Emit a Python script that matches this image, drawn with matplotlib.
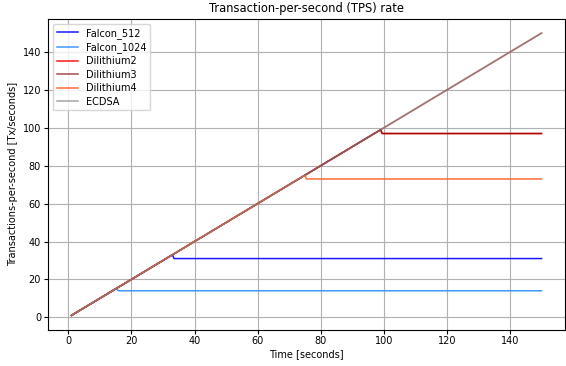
import matplotlib
matplotlib.use("Agg")
import matplotlib.pyplot as plt

# breakpoints of each TPS curve: (time [s], TPS)
falcon512_t = [1, 33, 33.5, 150]
falcon512_tps = [1, 33, 31, 31]
falcon1024_t = [1, 15, 16, 150]
falcon1024_tps = [1, 15, 14, 14]
dilithium2_t = [1, 99, 99.5, 150]
dilithium2_tps = [1, 99, 97, 97]
dilithium3_t = [1, 99, 99.5, 150]
dilithium3_tps = [1, 99, 97, 97]
dilithium4_t = [1, 75, 75.5, 150]
dilithium4_tps = [1, 75, 73, 73]
ecdsa_t = [1, 150]
ecdsa_tps = [1, 150]
offered_t = [1, 150]
offered_tps = [1, 150]

SERIES = [
    ("Falcon_512", falcon512_t, falcon512_tps, "#0000ff", 0.9),
    ("Falcon_1024", falcon1024_t, falcon1024_tps, "#2b8fff", 0.9),
    ("Dilithium2", dilithium2_t, dilithium2_tps, "#ff0000", 0.9),
    ("Dilithium3", dilithium3_t, dilithium3_tps, "#800000", 0.7),
    ("Dilithium4", dilithium4_t, dilithium4_tps, "#ff5a22", 0.9),
    ("ECDSA", ecdsa_t, ecdsa_tps, "#808080", 0.7),
]

fig = plt.figure(figsize=(5.66, 3.66), dpi=100)
ax = fig.add_axes([48 / 566, 1 - 329.5 / 366, 517 / 566, 310.5 / 366])

# offered load (not in legend) underneath ECDSA
ax.plot(offered_t, offered_tps, color="#d04040", linewidth=1.2, alpha=0.8, label="_nolegend_")
for name, t, tps, color, a in SERIES:
    ax.plot(t, tps, label=name, color=color, linewidth=1.1, alpha=a)

ax.set_title("Transaction-per-second (TPS) rate", fontsize=8.3, pad=5)
ax.set_xlabel("Time [seconds]", fontsize=7, labelpad=2)
ax.set_ylabel("Transactions-per-second [Tx/seconds]", fontsize=7, labelpad=3)
ax.tick_params(labelsize=7, length=3, pad=2)
ax.grid(True, color="#b0b0b0", linewidth=0.8)
ax.legend(loc="upper left", fontsize=7, handlelength=2.2, labelspacing=0.35)

plt.savefig("out.png", dpi=100)
